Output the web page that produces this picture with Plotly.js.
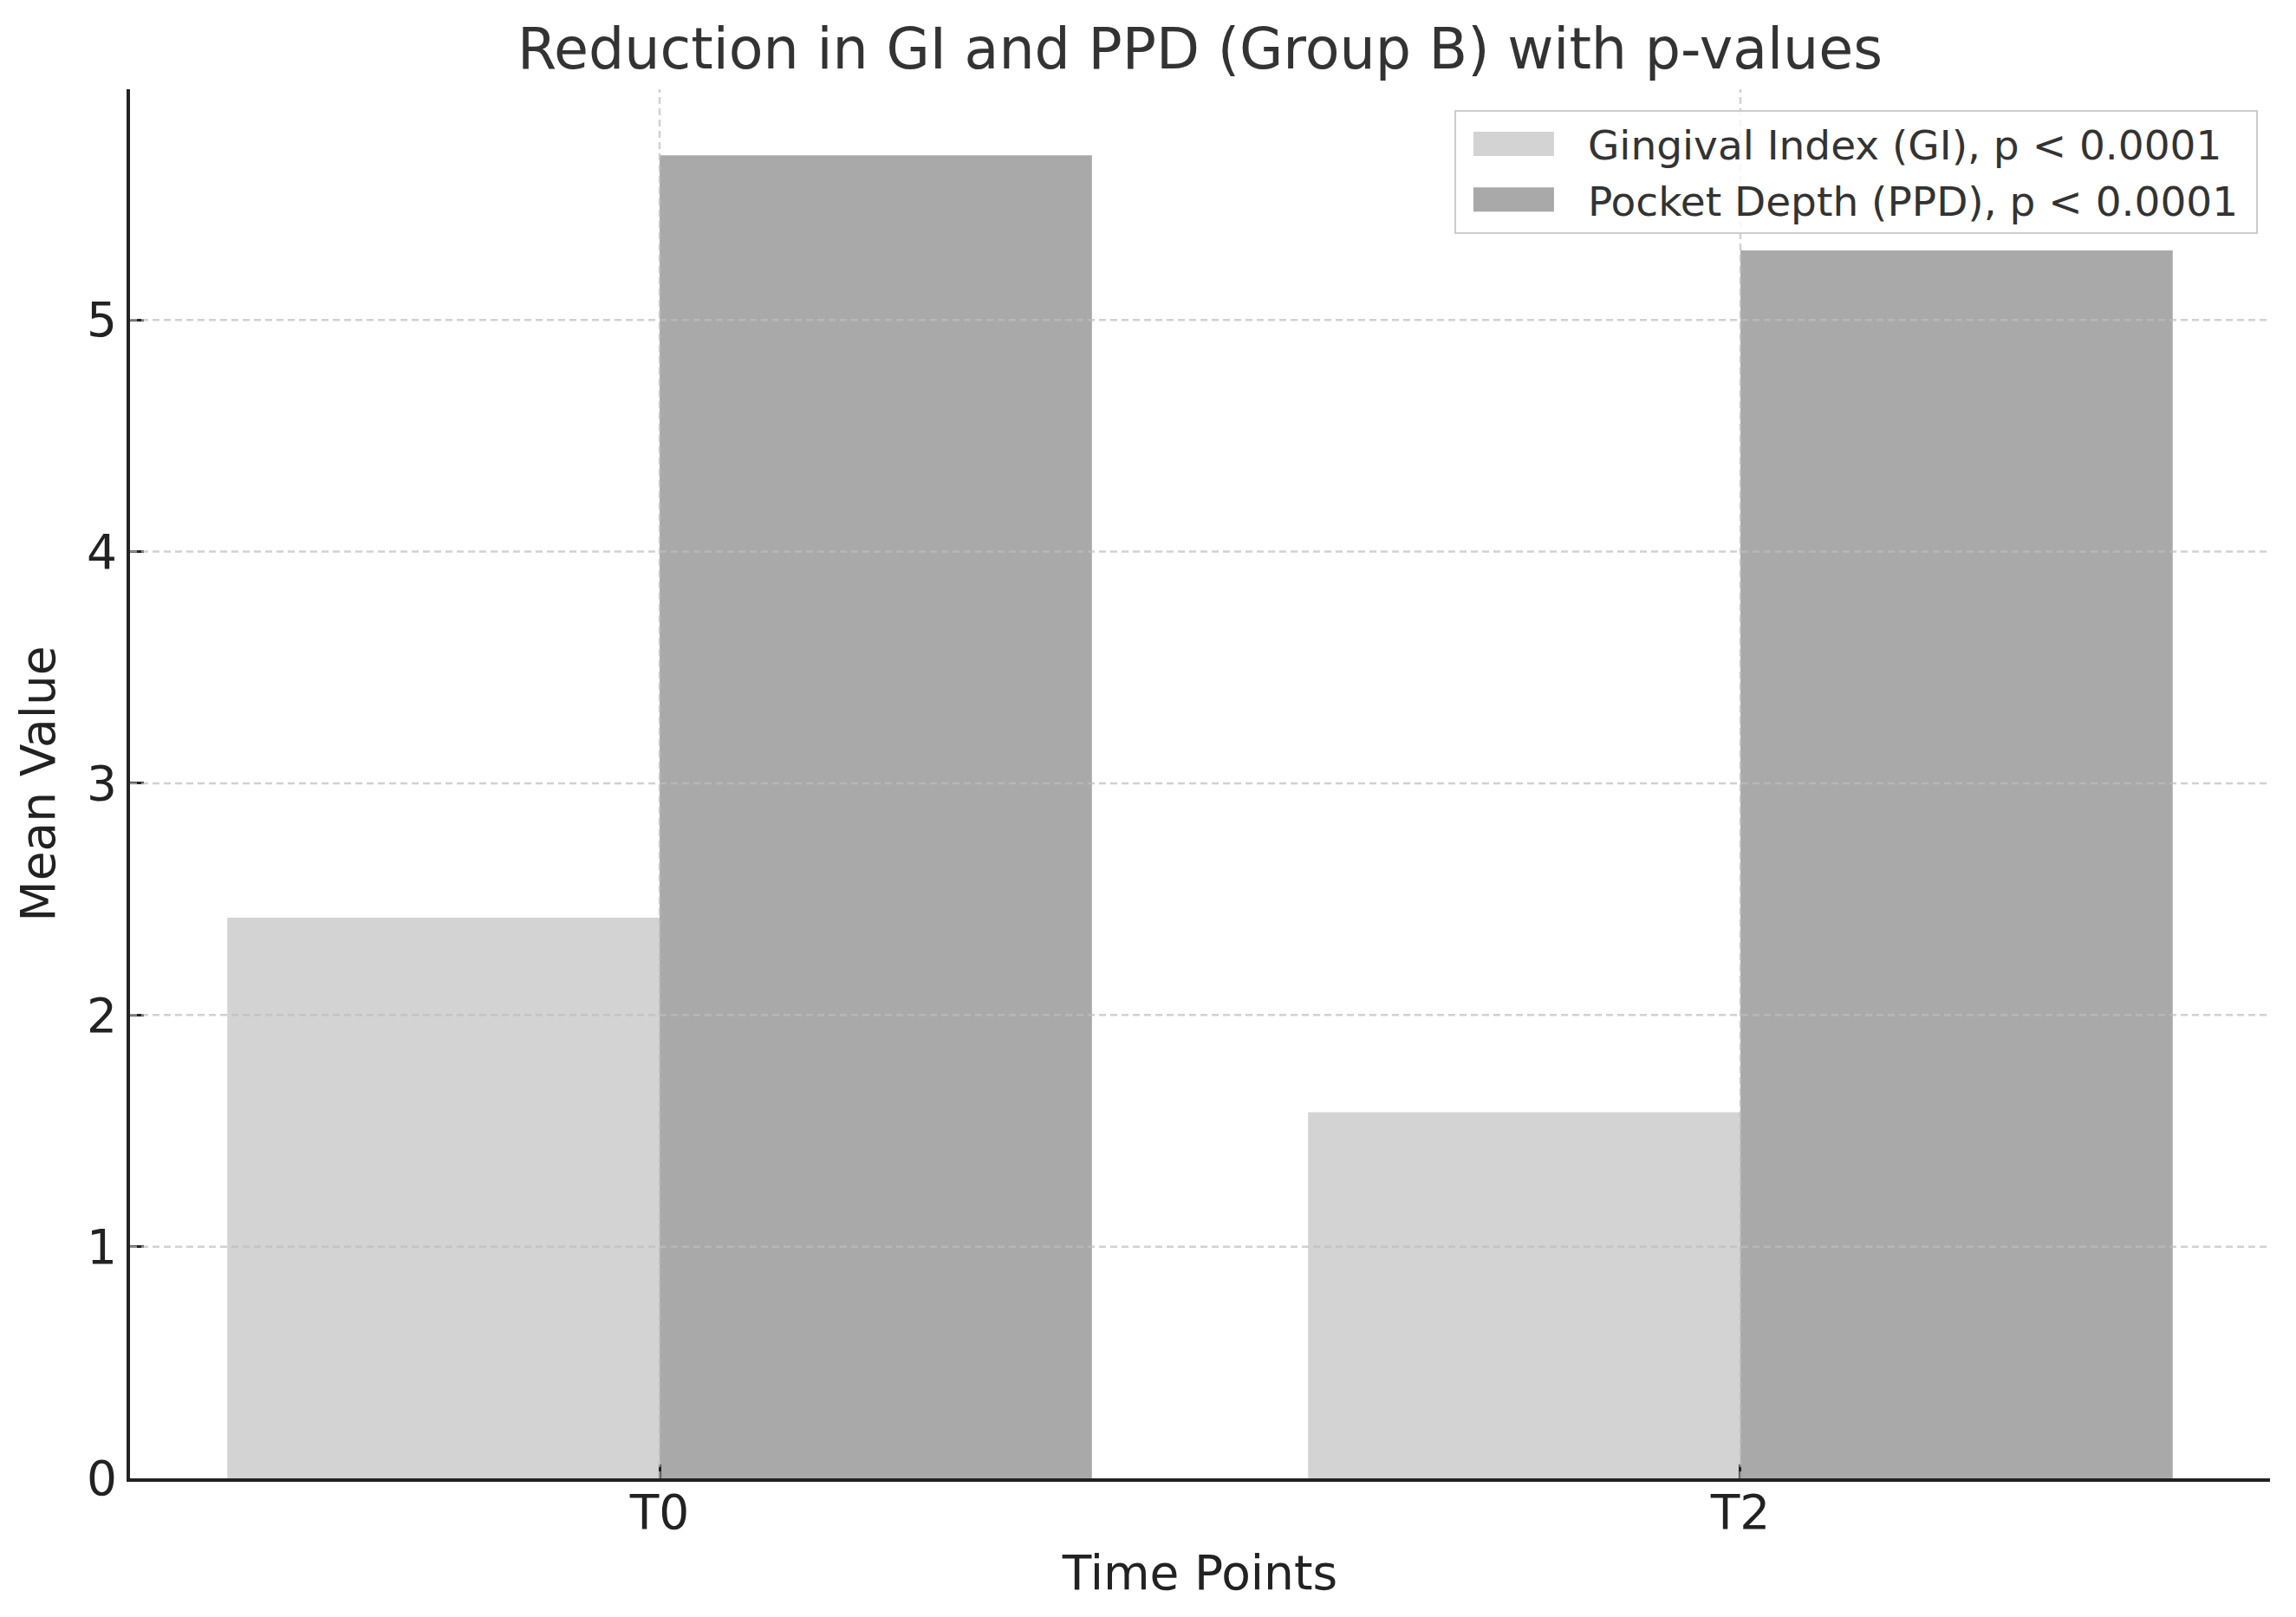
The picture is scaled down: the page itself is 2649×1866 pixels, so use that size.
<!DOCTYPE html>
<html>
<head>
<meta charset="utf-8">
<script src="https://cdn.plot.ly/plotly-3.0.1.min.js"></script>
<style>html,body{margin:0;padding:0;background:#fff;}#chart{width:2649px;height:1866px;}</style>
</head>
<body>
<div id="chart"></div>
<script>
const timePoints = ["T0", "T2"];
const giValues = [2.42, 1.58];
const ppdValues = [5.71, 5.30];
const seriesNames = ["Gingival Index (GI), p < 0.0001", "Pocket Depth (PPD), p < 0.0001"];
const yTicks = [0, 1, 2, 3, 4, 5];

const FONT = "DejaVu Sans";
const gridColor = "rgba(190,190,190,0.7)";
const pad = "\u00a0";

const traces = [
  { type: "bar", name: seriesNames[0] + pad, x: timePoints, y: giValues, marker: { color: "#d3d3d3" }, hoverinfo: "x+y" },
  { type: "bar", name: seriesNames[1] + pad, x: timePoints, y: ppdValues, marker: { color: "#a9a9a9" }, hoverinfo: "x+y" }
];

const shapes = [];
yTicks.filter(v => v !== 0).forEach(v => {
  shapes.push({ type: "line", xref: "paper", yref: "y", x0: 0, x1: 1, y0: v, y1: v, layer: "above",
    line: { color: gridColor, width: 2.5, dash: "8px,5px" } });
});
timePoints.forEach(c => {
  shapes.push({ type: "line", xref: "x", yref: "paper", x0: c, x1: c, y0: 0, y1: 1, layer: "above",
    line: { color: gridColor, width: 2.5, dash: "8px,5px" } });
});

const layout = {
  width: 2649, height: 1866,
  paper_bgcolor: "#ffffff", plot_bgcolor: "#ffffff",
  margin: { l: 150, r: 30, t: 103, b: 160, pad: 0 },
  font: { family: FONT, color: "#222222", size: 55 },
  title: { text: "Reduction in GI and PPD (Group B) with p-values", font: { family: FONT, size: 65, color: "#333333" },
    x: 0.5, xref: "paper", xanchor: "center", y: 1 - 56/1866, yref: "container", yanchor: "middle" },
  barmode: "group", bargap: 0.2, bargroupgap: 0,
  xaxis: {
    type: "category", range: [-0.49, 1.49], showgrid: false, zeroline: false,
    showline: true, linecolor: "#222222", linewidth: 4,
    ticks: "inside", ticklen: 16, tickwidth: 3, tickcolor: "#222222",
    ticklabelstandoff: -12,
    tickfont: { family: FONT, size: 55, color: "#222222" },
    title: { text: "Time Points", font: { family: FONT, size: 55, color: "#222222" }, standoff: 20 }
  },
  yaxis: {
    range: [0, 5.9955], tickvals: yTicks, showgrid: false, zeroline: false,
    showline: true, linecolor: "#222222", linewidth: 4,
    ticks: "inside", ticklen: 16, tickwidth: 3, tickcolor: "#222222",
    tickfont: { family: FONT, size: 55, color: "#222222" },
    title: { text: "Mean Value", font: { family: FONT, size: 55, color: "#222222" }, standoff: 20 }
  },
  legend: {
    x: 0.9943, xanchor: "right", y: 0.985, yanchor: "top",
    bgcolor: "rgba(255,255,255,0.8)", bordercolor: "#cccccc", borderwidth: 2,
    font: { family: FONT, size: 47, color: "#333333" }, tracegroupgap: 0,
    itemwidth: 142
  },
  shapes: shapes,
  showlegend: true
};

Plotly.newPlot("chart", traces, layout, { displayModeBar: false, staticPlot: true }).then(gd => {
  // enlarge legend swatches to match the wide rectangular patches of the reference
  const items = gd.querySelectorAll(".legend .traces");
  items.forEach(item => {
    const txt = item.querySelector("text.legendtext");
    const pts = item.querySelectorAll(".legendpoints path");
    if (!txt || !pts.length) return;
    const tx = parseFloat(txt.getAttribute("x")) || 0;
    const w = 93, h = 28;
    const cx = tx - 39 - w / 2;
    pts.forEach(p => {
      const g = p.parentNode;
      const gt = g.getAttribute("transform") || "";
      const m = /translate\(\s*([-\d.]+)[ ,]+([-\d.]+)\s*\)/.exec(gt);
      const gx = m ? parseFloat(m[1]) : 0;
      p.setAttribute("transform", "translate(" + (cx - gx) + ",0) scale(" + (w / 12) + "," + (h / 12) + ")");
      p.style.strokeWidth = "0px";
    });
  });
});
</script>
</body>
</html>
